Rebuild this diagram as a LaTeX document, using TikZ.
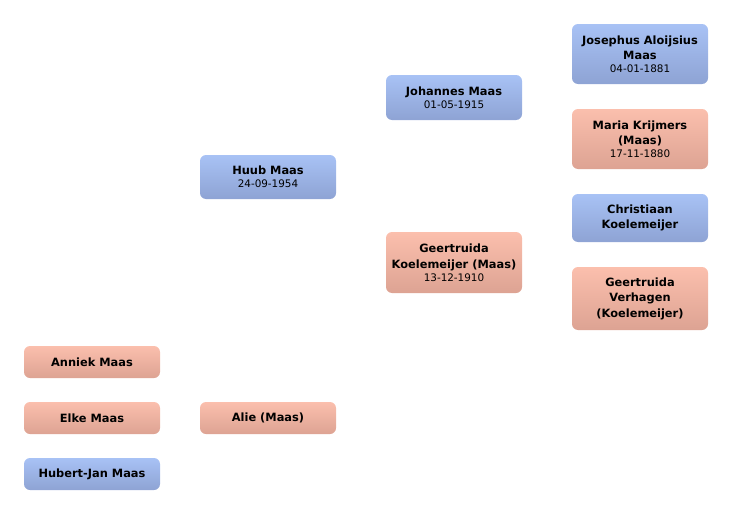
\documentclass[tikz,border=0pt]{standalone}
\usepackage{fontspec}
\setmainfont{DejaVu Sans}
\usepackage{tikz}
\usetikzlibrary{positioning}
\definecolor{mantop}{HTML}{A8C2F5}
\definecolor{manbot}{HTML}{8EA3D4}
\definecolor{womantop}{HTML}{FBBFAD}
\definecolor{womanbot}{HTML}{DDA393}
\tikzset{person/.style = {rounded corners = 6, minimum width = 136, inner sep = 0,
                          align = center, font = \fontsize{11.4}{15.5}\selectfont\bfseries}}
\tikzset{man/.style = {person, top color = mantop, bottom color = manbot}}
\tikzset{woman/.style = {person, top color = womantop, bottom color = womanbot}}
\newcommand{\born}[1]{\\[-2.5pt]{\mdseries\fontsize{10.4}{12}\selectfont #1}}

\begin{document}
\begin{tikzpicture}[x=1pt, y=-1pt]
    \useasboundingbox (0, 0) rectangle (732, 514);

    \node [woman, minimum height = 32] (anniek) at (92, 362) {Anniek Maas};
    \node [woman, minimum height = 32] (elke) at (92, 418) {Elke Maas};
    \node [man, minimum height = 32] (hubertjan) at (92, 474) {Hubert-Jan Maas};
    \node [woman, minimum height = 32] (alie) at (268, 418) {Alie (Maas)};

    \node [man, minimum height = 44] (huub) at (268, 177) {Huub Maas\born{24-09-1954}};

    \node [man, minimum height = 45] (johannes) at (454, 97.5) {Johannes Maas\born{01-05-1915}};
    \node [woman, minimum height = 61] (geertruidak) at (454, 262.5)
        {Geertruida\\Koelemeijer (Maas)\born{13-12-1910}};

    \node [man, minimum height = 60] (josephus) at (640, 54)
        {Josephus Aloijsius\\Maas\born{04-01-1881}};
    \node [woman, minimum height = 60] (maria) at (640, 139)
        {Maria Krijmers\\(Maas)\born{17-11-1880}};
    \node [man, minimum height = 48] (christiaan) at (640, 218) {Christiaan\\Koelemeijer};
    \node [woman, minimum height = 63] (geertruidav) at (640, 298.5)
        {Geertruida\\Verhagen\\(Koelemeijer)};
% no lines between the boxes, the generations are only told by the columns
\end{tikzpicture}
\end{document}
